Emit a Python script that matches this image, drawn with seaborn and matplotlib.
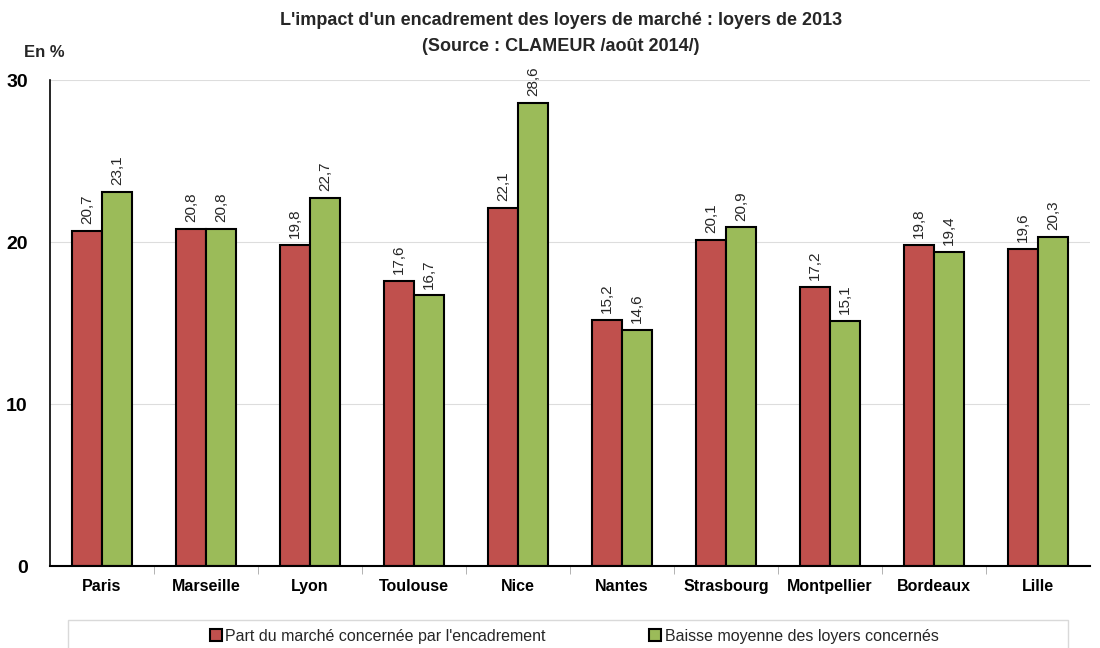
import pandas as pd
import matplotlib.pyplot as plt
import matplotlib.ticker as ticker
from matplotlib.patches import Rectangle
import seaborn as sns

# --- Données ---
villes = ['Paris', 'Marseille', 'Lyon', 'Toulouse', 'Nice', 'Nantes',
          'Strasbourg', 'Montpellier', 'Bordeaux', 'Lille']
part_marche = [20.7, 20.8, 19.8, 17.6, 22.1, 15.2, 20.1, 17.2, 19.8, 19.6]
baisse_loyers = [23.1, 20.8, 22.7, 16.7, 28.6, 14.6, 20.9, 15.1, 19.4, 20.3]
series = ["Part du marché concernée par l'encadrement",
          "Baisse moyenne des loyers concernés"]
couleurs = ['#C0504D', '#9BBB59']

df = pd.DataFrame({
    'Ville': villes * 2,
    'Valeur': part_marche + baisse_loyers,
    'Serie': [series[0]] * len(villes) + [series[1]] * len(villes),
})

sns.set_style('white')
plt.rcParams['font.family'] = ['Liberation Sans', 'DejaVu Sans']

fig = plt.figure(figsize=(11, 6.48), dpi=100)
ax = fig.add_axes([0.0455, 0.1265, 0.9455, 0.75])

sns.barplot(data=df, x='Ville', y='Valeur', hue='Serie', palette=couleurs, saturation=1,
            width=0.58, edgecolor='black', linewidth=1.5, ax=ax, legend=True)

# étiquettes de valeurs (virgule décimale)
for cont in ax.containers:
    ax.bar_label(cont, labels=[f'{v:.1f}'.replace('.', ',') for v in cont.datavalues],
                 rotation=90, padding=5, fontsize=11)

ax.set_ylim(0, 30)
ax.set_xlim(-0.5, len(villes) - 0.5)
ax.yaxis.set_major_locator(ticker.MultipleLocator(10))
ax.grid(axis='y', color='#DDDDDD', linewidth=0.8)
ax.set_axisbelow(True)
ax.set_xlabel('')
ax.set_ylabel('')

for s in ['top', 'right']:
    ax.spines[s].set_visible(False)
ax.spines['left'].set_color('black')
ax.spines['bottom'].set_color('black')
ax.spines['left'].set_linewidth(1.2)
ax.spines['bottom'].set_linewidth(1.5)

ax.tick_params(axis='x', which='major', length=0, pad=9, labelsize=11.5, labelcolor='black')
ax.xaxis.set_minor_locator(ticker.FixedLocator([i + 0.5 for i in range(len(villes) - 1)]))
ax.tick_params(axis='x', which='minor', length=6, color='#A6A6A6', bottom=True)
ax.tick_params(axis='y', length=0, pad=16, labelsize=14, labelcolor='black')
for lab in ax.get_xticklabels():
    lab.set_fontweight('bold')
for lab in ax.get_yticklabels():
    lab.set_fontweight('bold')

fig.text(0.51, 0.968, "L'impact d'un encadrement des loyers de marché : loyers de 2013",
         ha='center', va='center', fontsize=13, fontweight='bold')
fig.text(0.51, 0.929, "(Source : CLAMEUR /août 2014/)",
         ha='center', va='center', fontsize=13, fontweight='bold')
fig.text(0.022, 0.919, 'En %', ha='left', va='center', fontsize=12, fontweight='bold')

# légende en bas, encadrée
handles, labels = ax.get_legend_handles_labels()
ax.get_legend().remove()
fig.patches.append(Rectangle((68 / 1100, -0.02), 1000 / 1100, 0.063, transform=fig.transFigure,
                             facecolor='white', edgecolor='#D9D9D9', linewidth=1))
for h in handles:
    h.set_linewidth(1.5)
fig.legend(handles, labels, loc='center', bbox_to_anchor=(0.522, 0.018), ncol=2,
           frameon=False, fontsize=11.5, handlelength=0.75, handleheight=0.75,
           handletextpad=0.2, columnspacing=6.5, borderaxespad=0)

plt.savefig('out.png', dpi=100)
